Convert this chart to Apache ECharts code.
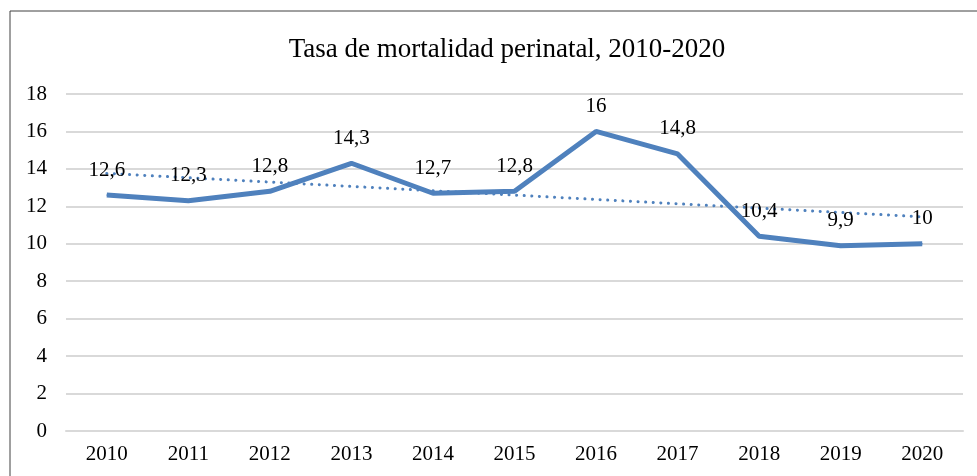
<!DOCTYPE html>
<html>
<head>
<meta charset="utf-8">
<script src="https://cdn.jsdelivr.net/npm/echarts@6/dist/echarts.min.js"></script>
<style>
  html, body { margin: 0; padding: 0; background: #fff; }
  #chart { width: 977px; height: 476px; }
</style>
</head>
<body>
<div id="chart"></div>
<script>
// datos
const anios = ["2010", "2011", "2012", "2013", "2014", "2015", "2016", "2017", "2018", "2019", "2020"];
const tasa = [12.6, 12.3, 12.8, 14.3, 12.7, 12.8, 16, 14.8, 10.4, 9.9, 10];
// linea de tendencia: solo los extremos leidos, el resto se une con connectNulls
const tendencia = [13.76, null, null, null, null, null, null, null, null, null, 11.44];

const fuente = "Liberation Serif, Times New Roman, serif";
const azul = "#4f81bd";

const chart = echarts.init(document.getElementById("chart"));

const option = {
  animation: false,
  backgroundColor: "#fff",
  title: {
    text: "Tasa de mortalidad perinatal, 2010-2020",
    left: 502,
    top: 31,
    textAlign: "center",
    textStyle: { fontFamily: fuente, fontSize: 27, fontWeight: "normal", color: "#000" },
  },
  graphic: [
    {
      type: "rect",
      shape: { x: 10, y: 11, width: 1000, height: 500 },
      style: { fill: "none", stroke: "#404040", lineWidth: 1 },
      silent: true,
    },
  ],
  grid: { left: 66, right: 14, top: 94, bottom: 45 },
  xAxis: {
    type: "category",
    data: anios,
    boundaryGap: true,
    axisLine: { show: true, lineStyle: { color: "#d9d9d9", width: 2 } },
    axisTick: { show: false },
    axisLabel: { fontFamily: fuente, fontSize: 21, color: "#000", margin: 13 },
  },
  yAxis: {
    type: "value",
    min: 0,
    max: 18,
    interval: 2,
    axisLine: { show: false },
    axisTick: { show: false },
    axisLabel: { fontFamily: fuente, fontSize: 21, color: "#000", margin: 19 },
    splitLine: { lineStyle: { color: "#d9d9d9", width: 2 } },
  },
  series: [
    {
      name: "Tendencia",
      type: "line",
      data: tendencia,
      connectNulls: true,
      symbol: "none",
      lineStyle: { color: azul, width: 3, type: [0.1, 7.5], cap: "round" },
      z: 2,
    },
    {
      name: "Tasa",
      type: "line",
      data: tasa,
      symbol: "circle",
      symbolSize: 1,
      itemStyle: { color: azul },
      lineStyle: { color: azul, width: 5 },
      label: {
        show: true,
        position: "top",
        distance: 14,
        fontFamily: fuente,
        fontSize: 21,
        color: "#000",
        formatter: (p) => String(p.value).replace(".", ","),
      },
      z: 3,
    },
  ],
};

chart.setOption(option);
</script>
</body>
</html>
